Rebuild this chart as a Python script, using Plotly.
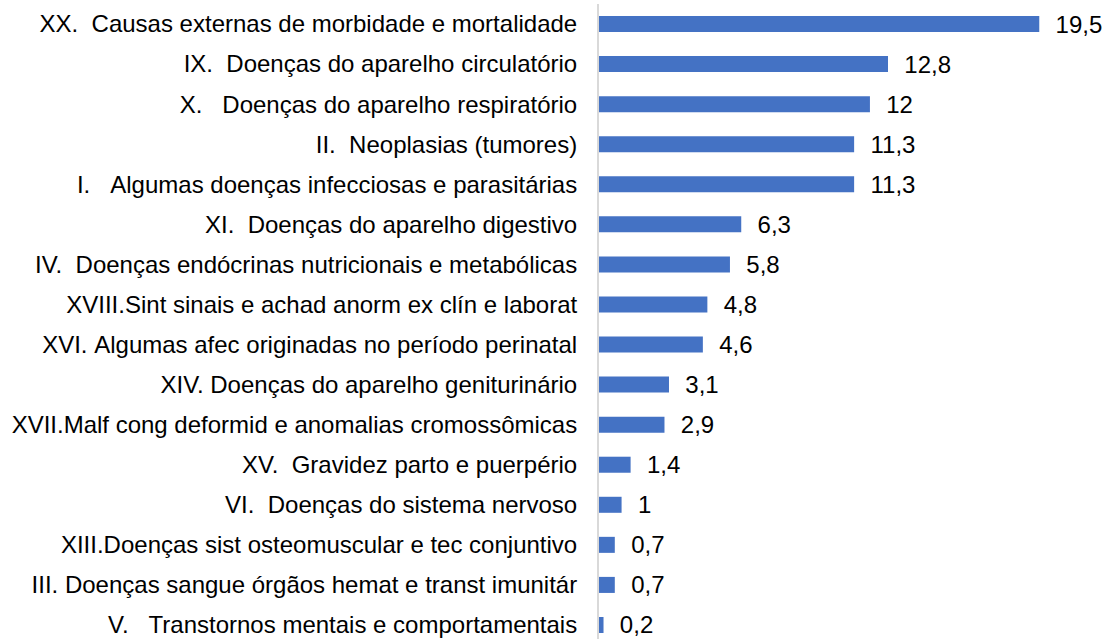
import plotly.graph_objects as go

NBSP = "\u00a0"
categories = [
    "XX." + NBSP * 2 + "Causas externas de morbidade e mortalidade",
    "IX." + NBSP * 2 + "Doenças do aparelho circulatório",
    "X." + NBSP * 3 + "Doenças do aparelho respiratório",
    "II." + NBSP * 2 + "Neoplasias (tumores)",
    "I." + NBSP * 3 + "Algumas doenças infecciosas e parasitárias",
    "XI." + NBSP * 2 + "Doenças do aparelho digestivo",
    "IV." + NBSP * 2 + "Doenças endócrinas nutricionais e metabólicas",
    "XVIII.Sint sinais e achad anorm ex clín e laborat",
    "XVI." + NBSP + "Algumas afec originadas no período perinatal",
    "XIV." + NBSP + "Doenças do aparelho geniturinário",
    "XVII.Malf cong deformid e anomalias cromossômicas",
    "XV." + NBSP * 2 + "Gravidez parto e puerpério",
    "VI." + NBSP * 2 + "Doenças do sistema nervoso",
    "XIII.Doenças sist osteomuscular e tec conjuntivo",
    "III." + NBSP + "Doenças sangue órgãos hemat e transt imunitár",
    "V." + NBSP * 3 + "Transtornos mentais e comportamentais",
]
values = [19.5, 12.8, 12, 11.3, 11.3, 6.3, 5.8, 4.8, 4.6, 3.1, 2.9, 1.4, 1, 0.7, 0.7, 0.2]

labels = [NBSP * 2 + f"{v:g}".replace(".", ",") for v in values]

FONT = "Liberation Sans, Arial, sans-serif"

fig = go.Figure(
    go.Bar(
        x=values,
        y=categories,
        orientation="h",
        marker=dict(color="#4472C4", line=dict(width=0)),
        width=0.4,
        text=labels,
        textposition="outside",
        constraintext="none",
        textfont=dict(family=FONT, size=24, color="#000000"),
        cliponaxis=False,
        hoverinfo="skip",
    )
)

fig.update_layout(
    width=1107,
    height=639,
    margin=dict(l=599, r=0, t=4, b=0, autoexpand=False),
    paper_bgcolor="white",
    plot_bgcolor="white",
    showlegend=False,
    font=dict(family=FONT, size=24, color="#000000"),
    xaxis=dict(
        range=[0, 22.5],
        showgrid=False,
        zeroline=False,
        showticklabels=False,
        showline=False,
        automargin=False,
    ),
    yaxis=dict(
        categoryorder="array",
        categoryarray=categories,
        range=[15.35, -0.5],
        showgrid=False,
        zeroline=False,
        showline=True,
        linecolor="#d9d9d9",
        linewidth=2,
        ticks="",
        ticklabelstandoff=15,
        automargin=False,
        tickfont=dict(family=FONT, size=24, color="#000000"),
    ),
)

fig.write_html(
    "out.html",
    config={"displayModeBar": False},
    post_script="document.body.style.margin='0';",
)
